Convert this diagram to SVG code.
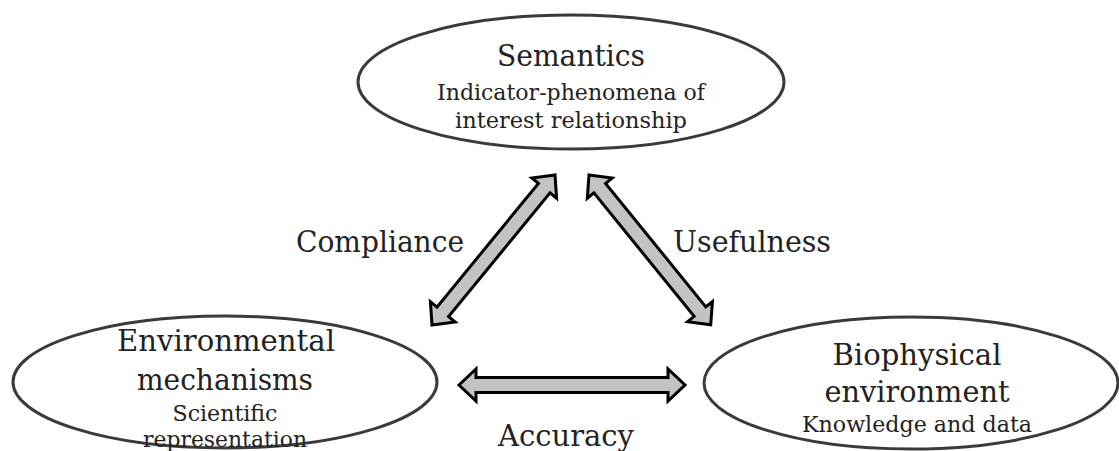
<svg xmlns="http://www.w3.org/2000/svg" width="1119" height="451" viewBox="0 0 1119 451">
<style>
.node ellipse{fill:#fff;stroke:#3a3a3a;stroke-width:3}
text{font-family:"DejaVu Serif","Liberation Serif",serif;fill:#222;text-anchor:middle}
.t{font-size:30px}
.s{font-size:22px}
.lbl{font-size:30px}
.arrow{fill:#c3c3c3;stroke:#000;stroke-width:3;stroke-linejoin:miter}
</style>
<rect width="1119" height="451" fill="#fff"/>
<g id="connectors">
<g transform="translate(432,325) rotate(-50.65)">
<polygon class="arrow" points="0,0 17,-16 17,-7.5 177,-7.5 177,-16 194,0 177,16 177,7.5 17,7.5 17,16"/>
</g>
<g transform="translate(589,175) rotate(50.9)">
<polygon class="arrow" points="0,0 17,-16 17,-7.5 176,-7.5 176,-16 193,0 176,16 176,7.5 17,7.5 17,16"/>
</g>
<g transform="translate(459,385)">
<polygon class="arrow" points="0,0 17,-16 17,-7.5 209,-7.5 209,-16 226,0 209,16 209,7.5 17,7.5 17,16"/>
</g>
<text class="lbl" x="380" y="252" textLength="168" lengthAdjust="spacingAndGlyphs">Compliance</text>
<text class="lbl" x="752" y="252" textLength="158" lengthAdjust="spacingAndGlyphs">Usefulness</text>
<text class="lbl" x="566" y="446" textLength="136" lengthAdjust="spacingAndGlyphs">Accuracy</text>
</g>
<g id="semantics" class="node">
<ellipse cx="571" cy="82" rx="213" ry="67"/>
<text class="t" x="571" y="66" textLength="148" lengthAdjust="spacingAndGlyphs">Semantics</text>
<text class="s" x="571" y="100" textLength="268" lengthAdjust="spacingAndGlyphs">Indicator-phenomena of</text>
<text class="s" x="571" y="128" textLength="232" lengthAdjust="spacingAndGlyphs">interest relationship</text>
</g>
<g id="environmental" class="node">
<ellipse cx="225" cy="382" rx="212" ry="66"/>
<text class="t" x="226" y="351" textLength="218" lengthAdjust="spacingAndGlyphs">Environmental</text>
<text class="t" x="225" y="390" textLength="176" lengthAdjust="spacingAndGlyphs">mechanisms</text>
<text class="s" x="225" y="421" textLength="105" lengthAdjust="spacingAndGlyphs">Scientific</text>
<text class="s" x="225" y="447" textLength="164" lengthAdjust="spacingAndGlyphs">representation</text>
</g>
<g id="biophysical" class="node">
<ellipse cx="911" cy="383" rx="207" ry="66"/>
<text class="t" x="917" y="365" textLength="169" lengthAdjust="spacingAndGlyphs">Biophysical</text>
<text class="t" x="917" y="402" textLength="185" lengthAdjust="spacingAndGlyphs">environment</text>
<text class="s" x="917" y="432" textLength="230" lengthAdjust="spacingAndGlyphs">Knowledge and data</text>
</g>
</svg>
